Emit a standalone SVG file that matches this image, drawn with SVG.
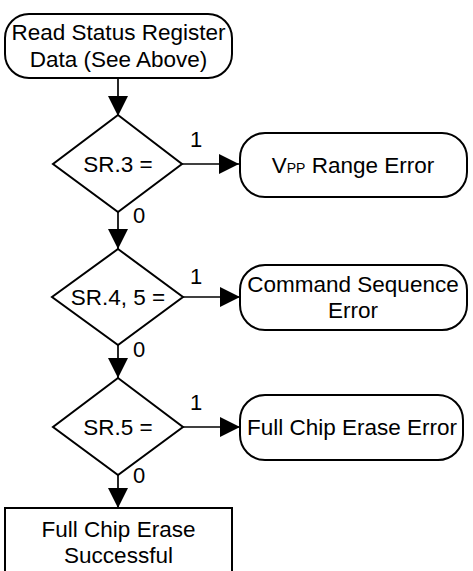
<svg xmlns="http://www.w3.org/2000/svg" width="473" height="571" viewBox="0 0 473 571">
<style>
.shape{fill:#fff;stroke:#000;stroke-width:2}
.t{font-family:"Liberation Sans",Arial,sans-serif;font-size:22.5px;fill:#000;text-anchor:middle}
.lbl{font-family:"Liberation Sans",Arial,sans-serif;font-size:22px;fill:#000}
.c{stroke:#000;stroke-width:1.7;fill:none;marker-end:url(#arr)}
</style>
<defs>
<marker id="arr" markerUnits="userSpaceOnUse" markerWidth="20" markerHeight="20" refX="20" refY="10" orient="auto">
<path d="M0,0 L20,10 L0,20 z" fill="#000"/>
</marker>
</defs>
<rect width="473" height="571" fill="#fff"/>
<g id="connectors">
<line class="c" x1="118" y1="78" x2="118" y2="116"/>
<line class="c" x1="182" y1="164" x2="239" y2="164"/>
<line class="c" x1="118" y1="212" x2="118" y2="249"/>
<line class="c" x1="183" y1="297" x2="240" y2="297"/>
<line class="c" x1="118" y1="345" x2="118" y2="378"/>
<line class="c" x1="183" y1="427" x2="240" y2="427"/>
<line class="c" x1="118" y1="475" x2="118" y2="508"/>
<text class="lbl" x="190" y="147">1</text>
<text class="lbl" x="133" y="223">0</text>
<text class="lbl" x="190" y="284">1</text>
<text class="lbl" x="133" y="357">0</text>
<text class="lbl" x="190" y="410">1</text>
<text class="lbl" x="133" y="483">0</text>
</g>
<g id="start">
<rect class="shape" x="5" y="14" width="227" height="64" rx="24" ry="24"/>
<text class="t" x="118.5" y="40">Read Status Register</text>
<text class="t" x="118.5" y="67">Data (See Above)</text>
</g>
<g id="sr3">
<polygon class="shape" points="118,115 182,164 118,212 53,164"/>
<text class="t" x="118" y="172">SR.3 =</text>
</g>
<g id="vpp">
<rect class="shape" x="240" y="133" width="227" height="64" rx="25" ry="25"/>
<text class="t" x="353" y="173">V<tspan font-size="14">PP</tspan> Range Error</text>
</g>
<g id="sr45">
<polygon class="shape" points="118,249 183,297 118,345 52,297"/>
<text class="t" x="118" y="305">SR.4, 5 =</text>
</g>
<g id="cmd">
<rect class="shape" x="240" y="265" width="227" height="65" rx="25" ry="25"/>
<text class="t" x="353" y="292">Command Sequence</text>
<text class="t" x="353" y="318">Error</text>
</g>
<g id="sr5">
<polygon class="shape" points="118,378 183,427 118,475 53,427"/>
<text class="t" x="118" y="435">SR.5 =</text>
</g>
<g id="fce">
<rect class="shape" x="240" y="395" width="223" height="65" rx="25" ry="25"/>
<text class="t" x="352" y="435">Full Chip Erase Error</text>
</g>
<g id="success">
<rect class="shape" x="5" y="508" width="227" height="80"/>
<text class="t" x="118.5" y="537">Full Chip Erase</text>
<text class="t" x="118.5" y="563">Successful</text>
</g>
</svg>
